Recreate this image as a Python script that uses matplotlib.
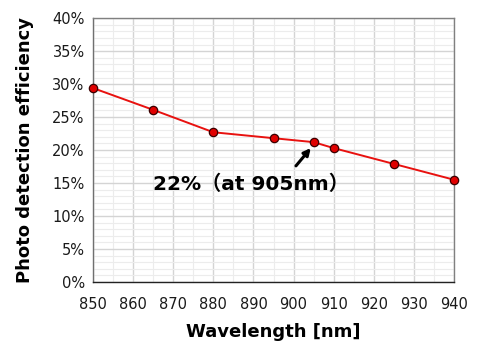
import matplotlib.pyplot as plt
from matplotlib.ticker import MultipleLocator, PercentFormatter

plt.rcParams['font.family'] = ['DejaVu Sans', 'Noto Sans CJK JP']

# data
wavelength = [850, 865, 880, 895, 905, 910, 925, 940]
pde = [29.4, 26.1, 22.7, 21.8, 21.2, 20.3, 17.9, 15.5]

fig = plt.figure(figsize=(5.0, 3.56), dpi=100)
ax = fig.add_axes([0.186, 0.208, 0.722, 0.741])

ax.plot(wavelength, pde, '-', color='#e8110f', lw=1.4, marker='o', ms=6,
        mfc='#e00000', mec='#3a0000', mew=0.9, zorder=3, clip_on=False)

ax.set_xlim(850, 940)
ax.set_ylim(0, 40)
ax.xaxis.set_major_locator(MultipleLocator(10))
ax.xaxis.set_minor_locator(MultipleLocator(5))
ax.yaxis.set_major_locator(MultipleLocator(5))
ax.yaxis.set_minor_locator(MultipleLocator(1))
ax.yaxis.set_major_formatter(PercentFormatter(decimals=0))

ax.grid(True, which='major', color='#d4d4d4', lw=1.0)
ax.grid(True, which='minor', color='#ececec', lw=0.8)
ax.set_axisbelow(True)

ax.tick_params(which='both', length=0, labelsize=10.5, colors='#1a1a1a', pad=6)
ax.tick_params(axis='x', pad=11)

for side in ['top', 'right']:
    ax.spines[side].set_color('#808080')
ax.spines['left'].set_color('#707070')
ax.spines['bottom'].set_color('#222222')
for s in ax.spines.values():
    s.set_linewidth(1.0)

ax.set_xlabel('Wavelength [nm]', fontsize=13, fontweight='bold', labelpad=8)
ax.set_ylabel('Photo detection efficiency', fontsize=13, fontweight='bold', labelpad=13)

ax.annotate('', xy=(904.3, 20.3), xytext=(900.6, 17.6),
            arrowprops=dict(arrowstyle='-|>', color='black', lw=2.2,
                            mutation_scale=10, shrinkA=0, shrinkB=0))
ax.text(865, 14.8, '22%（at 905nm）', fontsize=14.5, fontweight='bold',
        ha='left', va='center')

fig.savefig('out.png', dpi=100)
